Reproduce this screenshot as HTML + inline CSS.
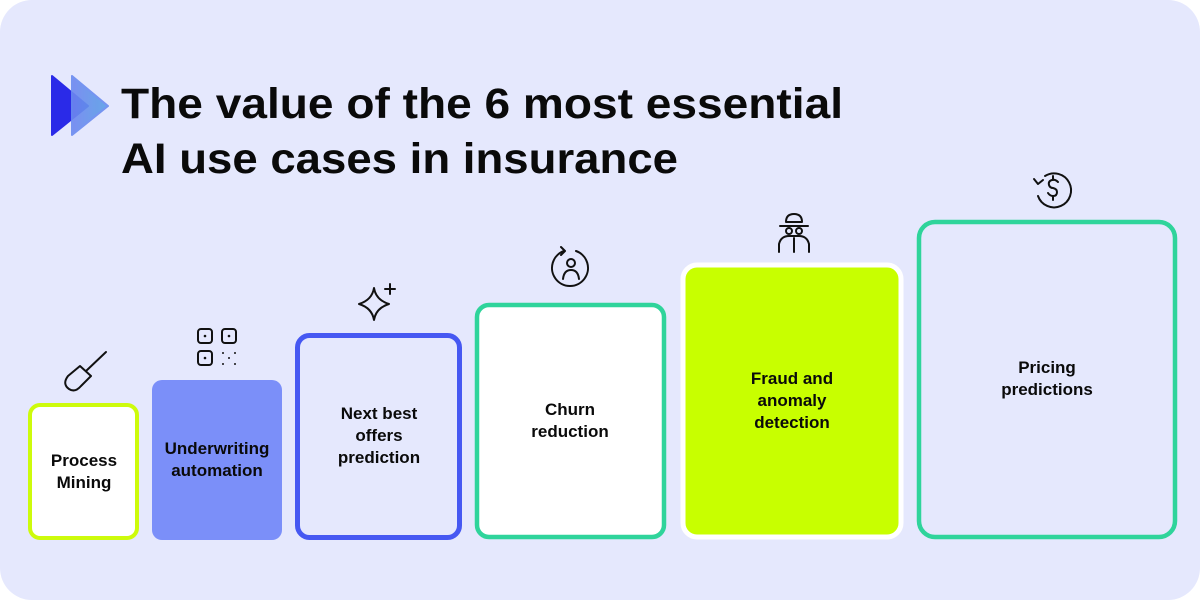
<!DOCTYPE html>
<html><head><meta charset="utf-8"><style>
html,body{margin:0;padding:0;background:#fff;width:1200px;height:600px;overflow:hidden}
svg text{font-family:"Liberation Sans",sans-serif;font-weight:bold;fill:#0a0a0a}
</style></head><body>
<svg width="1200" height="600" viewBox="0 0 1200 600" xmlns="http://www.w3.org/2000/svg">
<defs>
<linearGradient id="g1" x1="0" x2="1"><stop offset="0" stop-color="#6f86f0"/><stop offset="1" stop-color="#5aa0e6"/></linearGradient>
</defs>
<rect x="0" y="0" width="1200" height="600" rx="32" fill="#e5e8fd"/>
<!-- logo -->
<path d="M52 76 L52 135 L88 106 Z" fill="#2a2ae8" stroke="#2a2ae8" stroke-width="2" stroke-linejoin="round"/>
<path d="M72 76 L72 135 L108 106 Z" fill="url(#g1)" opacity="0.9" stroke="#6a8cf0" stroke-width="2" stroke-linejoin="round"/>
<text x="121" y="118" font-size="43" textLength="722" lengthAdjust="spacingAndGlyphs">The value of the 6 most essential</text>
<text x="121" y="173" font-size="43" textLength="557" lengthAdjust="spacingAndGlyphs">AI use cases in insurance</text>

<!-- boxes -->
<rect x="30" y="405" width="107" height="133" rx="10" fill="#fff" stroke="#cdfb0c" stroke-width="4"/>
<rect x="152" y="380" width="130" height="160" rx="10" fill="#7b8ff9"/>
<rect x="297.5" y="335.5" width="162" height="202" rx="12" fill="#e5e8fd" stroke="#4658f2" stroke-width="5"/>
<rect x="477" y="305" width="187" height="232" rx="12" fill="#fff" stroke="#2fd49b" stroke-width="4.5"/>
<rect x="683" y="265" width="218" height="272" rx="14" fill="#c8ff00" stroke="#fff" stroke-width="5"/>
<rect x="919" y="222" width="256" height="315" rx="16" fill="#e5e8fd" stroke="#2fd49b" stroke-width="4.5"/>

<!-- labels -->
<g font-size="17" text-anchor="middle">
<text x="84" y="466">Process</text><text x="84" y="488">Mining</text>
<text x="217" y="454">Underwriting</text><text x="217" y="476">automation</text>
<text x="379" y="419">Next best</text><text x="379" y="441">offers</text><text x="379" y="463">prediction</text>
<text x="570" y="415">Churn</text><text x="570" y="437">reduction</text>
<text x="792" y="384">Fraud and</text><text x="792" y="406">anomaly</text><text x="792" y="428">detection</text>
<text x="1047" y="373">Pricing</text><text x="1047" y="395">predictions</text>
</g>

<!-- icons -->
<g fill="none" stroke="#111" stroke-width="2" stroke-linecap="round" stroke-linejoin="round">
<!-- shovel -->
<line x1="106" y1="352" x2="86" y2="371"/>
<path d="M80 366 L68 376 Q62 384 69 389 Q75 393 81 386 L91 376 Z"/>
<!-- grid -->
<rect x="198" y="329" width="14" height="14" rx="3"/>
<rect x="222" y="329" width="14" height="14" rx="3"/>
<rect x="198" y="351" width="14" height="14" rx="3"/>
<!-- sparkle -->
<path d="M374 288 Q376 300 389 304 Q376 308 374 320 Q372 308 359 304 Q372 300 374 288 Z"/>
<line x1="390" y1="284" x2="390" y2="294"/><line x1="385" y1="289" x2="395" y2="289"/>
<!-- churn -->
<path d="M564 251 A18 18 0 1 0 576 251"/>
<path d="M561 247 L565 251 L561 255"/>
<circle cx="571" cy="263" r="4"/>
<path d="M563 279 Q564 270 571 270 Q578 270 579 279"/>
<!-- spy -->
<path d="M786 222 Q786 214 794 214 Q802 214 802 222 Z"/>
<line x1="780" y1="226" x2="808" y2="226"/>
<circle cx="789" cy="231" r="3"/><circle cx="799" cy="231" r="3"/>
<path d="M779 252 L779 244 Q781 236 789 236 L799 236 Q807 236 809 244 L809 252"/>
<line x1="794" y1="238" x2="794" y2="252"/>
<!-- dollar -->
<path d="M1045 176 A17 17 0 1 1 1038 196"/>
<path d="M1034 179 L1038 184 L1043 180"/>
<path d="M1058 182 Q1055 179 1052 180 Q1048 181 1049 185 Q1050 188 1053 188 Q1057 189 1057 192 Q1057 196 1053 196 Q1050 196 1048 193"/>
<line x1="1053" y1="176" x2="1053" y2="180"/><line x1="1053" y1="196" x2="1053" y2="200"/>
</g>
<g fill="#111">
<circle cx="205" cy="336" r="1.3"/><circle cx="229" cy="336" r="1.3"/><circle cx="205" cy="358" r="1.3"/>
<circle cx="223" cy="353" r="1"/><circle cx="235" cy="353" r="1"/><circle cx="229" cy="358" r="1"/><circle cx="223" cy="364" r="1"/><circle cx="235" cy="364" r="1"/>
</g>
</svg>
</body></html>
